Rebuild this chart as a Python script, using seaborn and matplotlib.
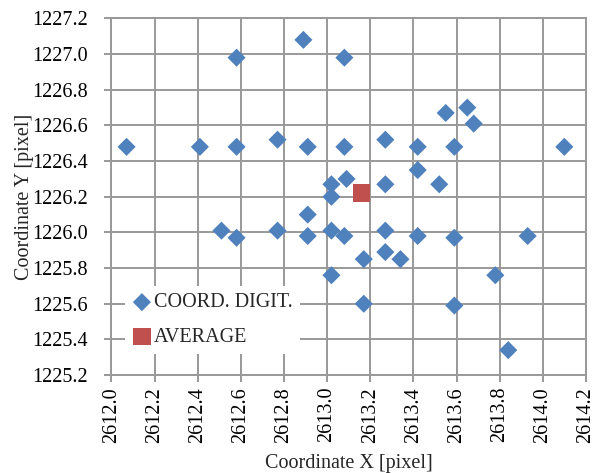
import numpy as np
import pandas as pd
import matplotlib
matplotlib.use("Agg")
import matplotlib.pyplot as plt
import seaborn as sns

# digitised coordinates (pixel)
coord_x = [2612.07, 2612.41, 2612.58, 2612.77, 2612.91, 2613.08, 2612.58, 2612.89,
           2613.08, 2613.09, 2613.02, 2613.02, 2613.55, 2613.65, 2613.68, 2613.27,
           2613.42, 2613.59, 2614.10, 2613.42, 2613.27, 2613.52, 2612.91, 2612.51,
           2612.58, 2612.77, 2612.91, 2613.02, 2613.08, 2613.02, 2613.27, 2613.42,
           2613.59, 2613.93, 2613.17, 2613.27, 2613.34, 2613.78, 2613.17, 2613.59,
           2613.84]
coord_y = [1226.48, 1226.48, 1226.48, 1226.52, 1226.48, 1226.48, 1226.98, 1227.08,
           1226.98, 1226.30, 1226.27, 1226.20, 1226.67, 1226.70, 1226.61, 1226.52,
           1226.48, 1226.48, 1226.48, 1226.35, 1226.27, 1226.27, 1226.10, 1226.01,
           1225.97, 1226.01, 1225.98, 1226.01, 1225.98, 1225.76, 1226.01, 1225.98,
           1225.97, 1225.98, 1225.85, 1225.89, 1225.85, 1225.76, 1225.60, 1225.59,
           1225.34]
avg_x = [2613.16]
avg_y = [1226.22]

x_ticks = np.round(np.arange(2612.0, 2614.21, 0.2), 1)
y_ticks = np.round(np.arange(1225.2, 1227.21, 0.2), 1)

sns.set_style("white")
plt.rcParams['font.family'] = ['Liberation Serif', 'DejaVu Serif']

BLUE = "#4F81BD"
RED = "#C0504D"
GRID = "#999999"
FS = 14.5

fig = plt.figure(figsize=(5.93, 4.73), dpi=100)
ax = fig.add_axes([0.188, 0.207, 0.800, 0.754])

pts = pd.DataFrame({"x": coord_x, "y": coord_y})
avg = pd.DataFrame({"x": avg_x, "y": avg_y})

sns.scatterplot(data=pts, x="x", y="y", marker="D", s=85, color=BLUE,
                edgecolor="none", label="COORD. DIGIT.", ax=ax, zorder=3)
sns.scatterplot(data=avg, x="x", y="y", marker="s", s=160, color=RED,
                edgecolor="none", label="AVERAGE", ax=ax, zorder=4)

ax.set_xlim(2612.0, 2614.2)
ax.set_ylim(1225.2, 1227.2)
ax.set_xticks(x_ticks)
ax.set_yticks(y_ticks)
ax.set_xticklabels([f"{v:.1f}" for v in x_ticks], rotation=90, fontsize=FS)
ax.set_yticklabels([f"{v:.1f}" for v in y_ticks], fontsize=FS)
ax.grid(True, color=GRID, linewidth=1.4)
ax.set_axisbelow(True)
for sp in ax.spines.values():
    sp.set_color(GRID)
    sp.set_linewidth(1.4)
ax.tick_params(direction="inout", length=10, width=1.4, color=GRID,
               labelcolor="black", left=True, bottom=True)
ax.tick_params(axis="y", pad=12)

ax.set_xlabel("Coordinate X [pixel]", fontsize=FS, labelpad=8)
ax.set_ylabel("Coordinate Y [pixel]", fontsize=FS, labelpad=-1)

leg = ax.legend(loc="lower left", bbox_to_anchor=(0.028, 0.06), frameon=True,
                fontsize=FS, handletextpad=0.1, labelspacing=0.75,
                handlelength=1.0, borderpad=0.35, borderaxespad=0)
leg.get_frame().set_facecolor("white")
leg.get_frame().set_edgecolor("none")
leg.get_frame().set_alpha(1)

fig.savefig("out.png", dpi=100)
